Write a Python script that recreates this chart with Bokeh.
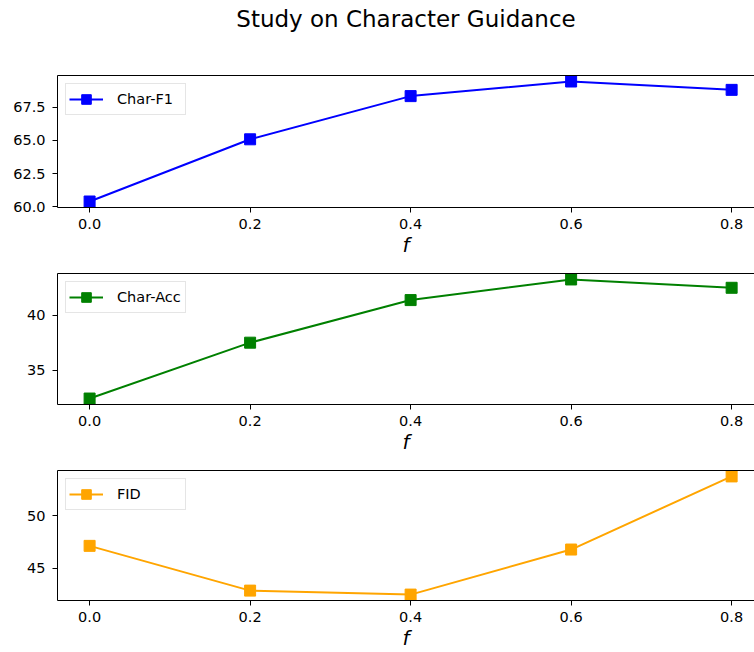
from bokeh.plotting import figure
from bokeh.layouts import column
from bokeh.models import FixedTicker, LinearAxis, Range1d, NumeralTickFormatter
from bokeh.embed import file_html
from bokeh.resources import INLINE

# ---- data ----
f_values = [0.0, 0.2, 0.4, 0.6, 0.8]
f_tick_labels = ["0.0", "0.2", "0.4", "0.6", "0.8"]

char_f1 = [60.40, 65.08, 68.33, 69.43, 68.80]
char_acc = [32.42, 37.51, 41.39, 43.27, 42.51]
fid = [47.14, 42.87, 42.49, 46.79, 53.77]

f1_ticks = [60.0, 62.5, 65.0, 67.5]
f1_tick_labels = ["60.0", "62.5", "65.0", "67.5"]
acc_ticks = [35, 40]
acc_tick_labels = ["35", "40"]
fid_ticks = [45, 50]
fid_tick_labels = ["45", "50"]

TITLE = "Study on Character Guidance"
FONT = "DejaVu Sans"
WIDTH = 754
X_START, X_END = -0.04, 0.8285


def bare_axis(**kw):
    return LinearAxis(ticker=FixedTicker(ticks=[]), major_label_text_font_size="0px",
                      major_tick_out=0, major_tick_in=0, minor_tick_out=0,
                      minor_tick_in=0, major_label_standoff=0,
                      major_tick_line_color=None, minor_tick_line_color=None, **kw)


def make_panel(values, color, label, yticks, ylabels, yfmt, height, top, bottom):
    lo, hi = min(values), max(values)
    r = hi - lo
    p = figure(width=WIDTH, height=height,
               x_range=Range1d(X_START, X_END),
               y_range=Range1d(lo - 0.05 * r, hi + 0.05 * r),
               output_backend="svg", toolbar_location=None,
               min_border_left=57, min_border_right=0,
               min_border_top=top, min_border_bottom=bottom)
    p.outline_line_color = None
    p.grid.visible = False
    p.background_fill_color = "white"
    p.border_fill_color = "white"

    for ax in (p.xaxis[0], p.yaxis[0]):
        ax.axis_line_color = "black"
        ax.axis_line_width = 1
        ax.major_tick_line_color = "black"
        ax.major_tick_line_width = 1
        ax.major_tick_out = 5
        ax.major_tick_in = 0
        ax.minor_tick_line_color = None
        ax.minor_tick_out = 0
        ax.major_label_text_font = FONT
        ax.major_label_text_font_size = "14.5px"
        ax.major_label_text_color = "black"

    p.xaxis.major_label_standoff = 6
    p.yaxis.major_label_standoff = 7

    p.xaxis.ticker = FixedTicker(ticks=f_values)
    p.xaxis.formatter = NumeralTickFormatter(format="0.0")
    p.xaxis.major_label_overrides = {v: s for v, s in zip(f_values, f_tick_labels)}
    p.xaxis.axis_label = "f"
    p.xaxis.axis_label_text_font = FONT
    p.xaxis.axis_label_text_font_style = "italic"
    p.xaxis.axis_label_text_font_size = "20px"
    p.xaxis.axis_label_text_color = "black"
    p.xaxis.axis_label_standoff = 1

    p.yaxis.ticker = FixedTicker(ticks=yticks)
    p.yaxis.formatter = NumeralTickFormatter(format=yfmt)
    p.yaxis.major_label_overrides = {v: s for v, s in zip(yticks, ylabels)}

    # top spine (first "above" item sits next to the frame)
    p.add_layout(bare_axis(axis_line_color="black", axis_line_width=1), "above")

    p.line(f_values, values, line_color=color, line_width=2, legend_label=label)
    p.scatter(f_values, values, marker="square", size=11, fill_color=color,
              line_color=color, legend_label=label)

    lg = p.legend[0]
    lg.location = "top_left"
    lg.margin = 8
    lg.padding = 3
    lg.spacing = 0
    lg.glyph_width = 34
    lg.glyph_height = 24
    lg.label_height = 24
    lg.label_width = 65
    lg.label_standoff = 14
    lg.label_text_font = FONT
    lg.label_text_font_size = "14.5px"
    lg.label_text_color = "black"
    lg.border_line_color = "#cccccc"
    lg.border_line_width = 1
    lg.background_fill_alpha = 0.8
    return p


p1 = make_panel(char_f1, "#0000ff", "Char-F1", f1_ticks, f1_tick_labels, "0.0",
                262, 75, 55)
# figure title carried by an invisible axis above the spine
title_axis = bare_axis(axis_line_color=None,
                       axis_label=TITLE, axis_label_text_font=FONT,
                       axis_label_text_font_size="23px",
                       axis_label_text_font_style="normal",
                       axis_label_text_color="black", axis_label_standoff=44)
p1.add_layout(title_axis, "above")

p2 = make_panel(char_acc, "#008000", "Char-Acc", acc_ticks, acc_tick_labels, "0",
                197, 11, 55)
p3 = make_panel(fid, "#ffa500", "FID", fid_ticks, fid_tick_labels, "0",
                193, 11, 51)

layout = column(p1, p2, p3, spacing=0)

with open("out.html", "w") as fh:
    fh.write(file_html(layout, INLINE))
